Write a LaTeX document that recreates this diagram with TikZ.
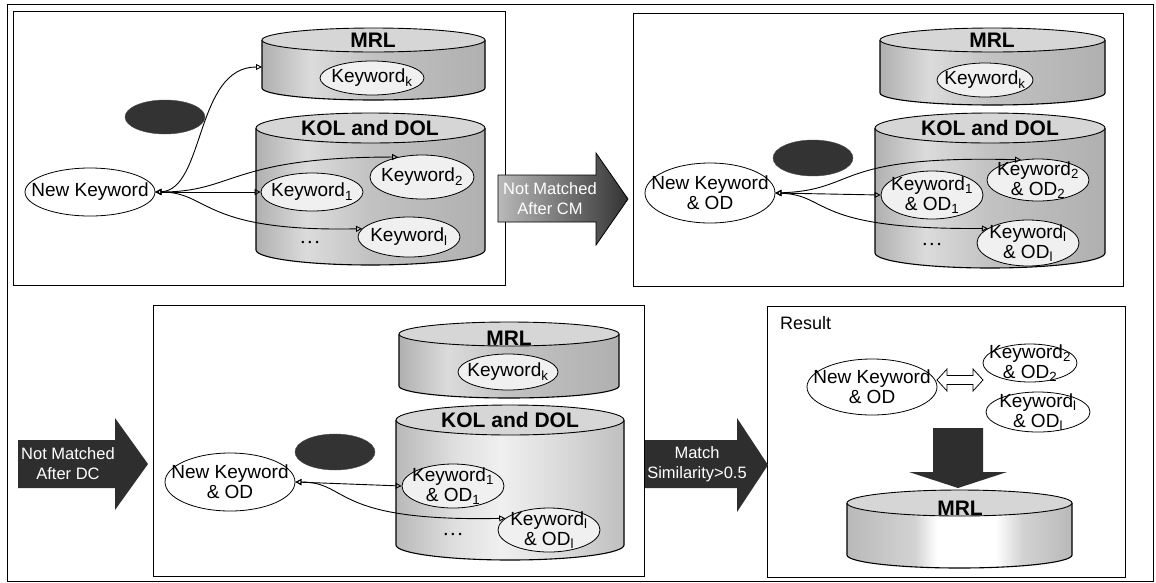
\documentclass[tikz,border=0pt]{standalone}
\usepackage{fontspec}
\setmainfont{Liberation Sans}
\usetikzlibrary{arrows.meta,shapes.geometric}
\pgfdeclarehorizontalshading{cylshadeA}{100bp}{color(0bp)=(gray!62); color(25bp)=(gray!62); color(36bp)=(gray!28); color(50bp)=(gray!48); color(75bp)=(gray!62); color(100bp)=(gray!62)}
\pgfdeclarehorizontalshading{cylshadeB}{100bp}{color(0bp)=(gray!55); color(25bp)=(gray!55); color(38bp)=(gray!25); color(48bp)=(gray!12); color(62bp)=(gray!30); color(75bp)=(gray!50); color(100bp)=(gray!50)}
\pgfdeclarehorizontalshading{cylshadeC}{100bp}{color(0bp)=(gray!55); color(25bp)=(gray!55); color(40bp)=(gray!35); color(45bp)=(white); color(58bp)=(white); color(64bp)=(gray!35); color(75bp)=(gray!55); color(100bp)=(gray!55)}
\newcommand{\dbcyl}[6]{%
  \pgfmathsetmacro\cylcx{(#1+#2)/2}%
  \pgfmathsetmacro\cylrx{(#2-#1)/2}%
  \pgfmathsetmacro\cylyt{#3+#5}%
  \pgfmathsetmacro\cylyb{#4-#5}%
  \pgfmathsetmacro\cylbot{#4}%
  \pgfmathsetmacro\cylkx{0.552*\cylrx}%
  \pgfmathsetmacro\cylky{0.552*#5}%
  \shade[shading=#6] (#1,\cylyt) -- (#1,\cylyb)
     .. controls (#1,\cylyb+\cylky) and (\cylcx-\cylkx,\cylbot) .. (\cylcx,\cylbot)
     .. controls (\cylcx+\cylkx,\cylbot) and (#2,\cylyb+\cylky) .. (#2,\cylyb)
     -- (#2,\cylyt) -- cycle;
  \draw[line width=1.1pt] (#1,\cylyt) -- (#1,\cylyb)
     .. controls (#1,\cylyb+\cylky) and (\cylcx-\cylkx,\cylbot) .. (\cylcx,\cylbot)
     .. controls (\cylcx+\cylkx,\cylbot) and (#2,\cylyb+\cylky) .. (#2,\cylyb)
     -- (#2,\cylyt);
  \draw[line width=0.9pt, fill=gray!32] (\cylcx,\cylyt) ellipse[x radius=\cylrx, y radius=#5];
}
\begin{document}
\begin{tikzpicture}[x=1pt,y=-1pt,
  panel/.style={draw=black, line width=1pt},
  kw/.style={ellipse, draw=black, line width=0.8pt, fill=gray!12, inner sep=0pt},
  nkw/.style={ellipse, draw=black, line width=0.8pt, fill=white, inner sep=0pt},
  blob/.style={ellipse, fill=black!80, draw=black!70, inner sep=0pt},
  conn/.style={line width=0.9pt, {Triangle[open,length=6pt,width=6pt]}-{Triangle[open,length=6pt,width=6pt]}},
  ttl/.style={font=\fontsize{21}{23}\selectfont\bfseries, inner sep=0pt},
  txt/.style={font=\fontsize{19}{20}\selectfont, align=center, inner sep=0pt},
  dots/.style={font=\fontsize{9}{10}\selectfont, inner sep=0pt},
  bigtxt/.style={font=\fontsize{16.5}{20}\selectfont, align=center, text=white, inner sep=0pt},
]
\useasboundingbox (0,0) rectangle (1156,582);
\fill[white] (0,0) rectangle (1156,582);
% frames
\draw[line width=0.8pt] (7,4) rectangle (1153,581);
\draw[panel] (13,11) rectangle (505,285);
\draw[panel] (633,13) rectangle (1123,286);
\draw[panel] (153,305) rectangle (644,576);
\draw[panel] (767,306) rectangle (1125,577);

% ---------- panel 1 ----------
\dbcyl{262}{485}{28}{100}{12}{cylshadeA}
\dbcyl{256}{485}{113}{265}{15}{cylshadeA}
\node[ttl] (mrlt1) at (373,40) {MRL};
\node[ttl] (kolt1) at (370,128) {KOL and DOL};
\coordinate (mrl1w) at (262,67);
\node[kw, minimum width=104, minimum height=34, label={[txt]center:{Keyword\textsubscript{k}}}] (kk1) at (372,78) {};
\node[kw, minimum width=104, minimum height=44, label={[txt]center:{Keyword\textsubscript{2}}}] (k21) at (422,177) {};
\node[kw, minimum width=102, minimum height=38, label={[txt]center:{Keyword\textsubscript{1}}}] (k11) at (312,192) {};
\node[kw, minimum width=102, minimum height=40, label={[txt]center:{Keyword\textsubscript{l}}}] (kl1) at (409,237) {};
\node[dots] (d1) at (310,243) {\textbullet\hspace{4pt}\textbullet\hspace{4pt}\textbullet};
\node[nkw, minimum width=130, minimum height=48, label={[txt]center:{New Keyword}}] (nk1) at (90,192) {};
\node[blob, minimum width=80, minimum height=34] (b1) at (165,117) {};
\draw[conn] (nk1.east) .. controls (205,190) and (195,67) .. (mrl1w);
\draw[conn] (nk1.east) .. controls (235,192) and (230,157) .. (k21.140);
\draw[conn] (nk1.east) -- (k11.west);
\draw[conn] (nk1.east) .. controls (210,192) and (200,232) .. (kl1.170);

% ---------- arrow CM ----------
\shade[left color=gray!55, right color=black!80, draw=black, line width=0.8pt]
  (498,175) -- (596,175) -- (596,153) -- (628,199) -- (596,245) -- (596,222) -- (498,222) -- cycle;
\node[bigtxt] (a1) at (550,199) {Not Matched\\After CM};

% ---------- panel 2 ----------
\dbcyl{880}{1105}{28}{105}{12}{cylshadeA}
\dbcyl{875}{1105}{113}{268}{15}{cylshadeA}
\node[ttl] (mrlt2) at (992,40) {MRL};
\node[ttl] (kolt2) at (990,128) {KOL and DOL};
\node[kw, minimum width=96, minimum height=34, label={[txt]center:{Keyword\textsubscript{k}}}] (kk2) at (985,80) {};
\node[kw, minimum width=102, minimum height=42, label={[txt]center:{Keyword\textsubscript{2}\\\& OD\textsubscript{2}}}] (k22) at (1038,180) {};
\node[kw, minimum width=102, minimum height=48, label={[txt]center:{Keyword\textsubscript{1}\\\& OD\textsubscript{1}}}] (k12) at (932,195) {};
\node[kw, minimum width=102, minimum height=46, label={[txt]center:{Keyword\textsubscript{l}\\\& OD\textsubscript{l}}}] (kl2) at (1028,243) {};
\node[dots] (d2) at (932,245) {\textbullet\hspace{4pt}\textbullet\hspace{4pt}\textbullet};
\node[nkw, minimum width=130, minimum height=60, label={[txt]center:{New Keyword\\\& OD}}] (nk2) at (710,193) {};
\node[blob, minimum width=80, minimum height=36] (b2) at (813,158) {};
\draw[conn] (nk2.east) .. controls (860,190) and (830,155) .. (k22.130);
\draw[conn] (nk2.east) -- (k12.west);
\draw[conn] (nk2.east) .. controls (830,195) and (810,230) .. (kl2.160);

% ---------- arrow DC ----------
\fill[black!82] (18,440) -- (115,440) -- (115,418) -- (148,464) -- (115,510) -- (115,488) -- (18,488) -- cycle;
\node[bigtxt] (a2) at (68,464) {Not Matched\\After DC};

% ---------- panel 3 ----------
\dbcyl{399}{619}{322}{398}{12}{cylshadeA}
\dbcyl{396}{624}{405}{560}{15}{cylshadeB}
\node[ttl] (mrlt3) at (509,338) {MRL};
\node[ttl] (kolt3) at (510,420) {KOL and DOL};
\node[kw, minimum width=100, minimum height=36, label={[txt]center:{Keyword\textsubscript{k}}}] (kk3) at (508,372) {};
\node[kw, minimum width=102, minimum height=44, label={[txt]center:{Keyword\textsubscript{1}\\\& OD\textsubscript{1}}}] (k13) at (453,486) {};
\node[kw, minimum width=102, minimum height=44, label={[txt]center:{Keyword\textsubscript{l}\\\& OD\textsubscript{l}}}] (kl3) at (549,530) {};
\node[dots] (d3) at (453,535) {\textbullet\hspace{4pt}\textbullet\hspace{4pt}\textbullet};
\node[nkw, minimum width=130, minimum height=58, label={[txt]center:{New Keyword\\\& OD}}] (nk3) at (230,482) {};
\node[blob, minimum width=80, minimum height=36] (b3) at (335,452) {};
\draw[conn] (nk3.east) -- (k13.west);
\draw[conn] (nk3.east) .. controls (350,482) and (330,522) .. (kl3.165);

% ---------- arrow Match ----------
\fill[black!82] (645,440) -- (737,440) -- (737,418) -- (768,465) -- (737,512) -- (737,488) -- (645,488) -- cycle;
\node[bigtxt] (a3) at (697,464) {Match\\Similarity>0.5};

% ---------- panel 4 ----------
\node[font=\fontsize{18}{19}\selectfont, anchor=west, inner sep=0pt] (res) at (780,323) {Result};
\node[nkw, minimum width=130, minimum height=56, label={[txt]center:{New Keyword\\\& OD}}] (nk4) at (872,387) {};
\node[kw, fill=white, minimum width=94, minimum height=38, label={[txt]center:{Keyword\textsubscript{2}\\\& OD\textsubscript{2}}}] (k24) at (1030,363) {};
\node[kw, fill=white, minimum width=104, minimum height=40, label={[txt]center:{Keyword\textsubscript{l}\\\& OD\textsubscript{l}}}] (kl4) at (1038,412) {};
\draw[line width=0.8pt, fill=white] (937,380) -- (947,369) -- (947,375.5) -- (973,375.5) -- (973,369) -- (983,380)
   -- (973,391) -- (973,384.5) -- (947,384.5) -- (947,391) -- cycle;
\fill[black!82] (933,428) -- (983,428) -- (983,472) -- (1007,472) -- (958,488) -- (909,472) -- (933,472) -- cycle;
\dbcyl{847}{1072}{490}{568}{13}{cylshadeC}
\node[ttl] (mrlt4) at (960,508) {MRL};
\end{tikzpicture}
\end{document}
